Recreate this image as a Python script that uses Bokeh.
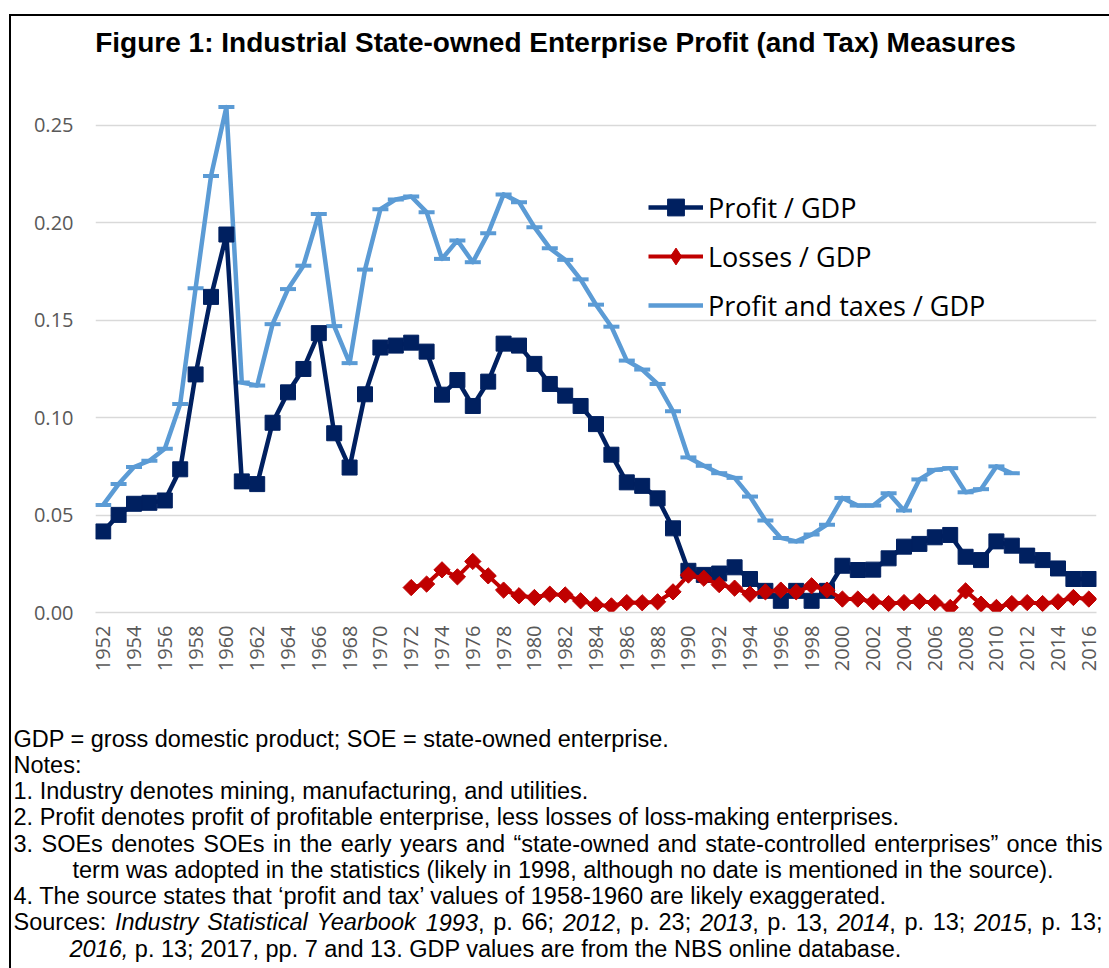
import math
from bokeh.plotting import figure
from bokeh.layouts import column
from bokeh.models import (Range1d, FixedTicker, NumeralTickFormatter, Legend, LegendItem)
from bokeh.core.properties import value
from bokeh.embed import file_html
from bokeh.resources import INLINE

# ---------------- data ----------------
years = list(range(1952, 2017))
profit_gdp = [0.0416, 0.0501, 0.0558, 0.0563, 0.0575, 0.0735, 0.1222, 0.1620, 0.1940, 0.0673,
              0.0659, 0.0974, 0.1130, 0.1250, 0.1434, 0.0920, 0.0744, 0.1120, 0.1360, 0.1370,
              0.1385, 0.1339, 0.1118, 0.1193, 0.1060, 0.1185, 0.1380, 0.1370, 0.1276, 0.1173,
              0.1113, 0.1060, 0.0967, 0.0810, 0.0668, 0.0650, 0.0586, 0.0432, 0.0214, 0.0193,
              0.0200, 0.0232, 0.0172, 0.0111, 0.0060, 0.0111, 0.0060, 0.0111, 0.0240, 0.0218,
              0.0220, 0.0278, 0.0338, 0.0352, 0.0386, 0.0398, 0.0286, 0.0269, 0.0365, 0.0343,
              0.0292, 0.0269, 0.0226, 0.0172, 0.0172]

pt_years = list(range(1952, 2012))
profit_tax_gdp = [0.0552, 0.0659, 0.0747, 0.0779, 0.0841, 0.1070, 0.1664, 0.2240, 0.2594, 0.1180,
                  0.1165, 0.1480, 0.1660, 0.1780, 0.2045, 0.1470, 0.1280, 0.1760, 0.2070, 0.2120,
                  0.2135, 0.2055, 0.1815, 0.1910, 0.1798, 0.1947, 0.2146, 0.2106, 0.1978, 0.1870,
                  0.1810, 0.1710, 0.1580, 0.1467, 0.1293, 0.1247, 0.1173, 0.1033, 0.0796, 0.0753,
                  0.0715, 0.0691, 0.0595, 0.0472, 0.0383, 0.0365, 0.0400, 0.0451, 0.0588, 0.0549,
                  0.0549, 0.0612, 0.0523, 0.0683, 0.0732, 0.0741, 0.0617, 0.0633, 0.0750, 0.0715]

loss_years = list(range(1972, 2017))
losses_gdp = [0.0128, 0.0146, 0.0219, 0.0183, 0.0262, 0.0188, 0.0115, 0.0086, 0.0077, 0.0094,
              0.0090, 0.0060, 0.0039, 0.0034, 0.0051, 0.0050, 0.0055, 0.0106, 0.0192, 0.0176,
              0.0143, 0.0125, 0.0094, 0.0106, 0.0115, 0.0106, 0.0137, 0.0115, 0.0069, 0.0069,
              0.0055, 0.0046, 0.0051, 0.0057, 0.0051, 0.0026, 0.0111, 0.0043, 0.0026, 0.0046,
              0.0051, 0.0046, 0.0055, 0.0077, 0.0069]

y_ticks = [0.0, 0.05, 0.10, 0.15, 0.20, 0.25]
x_ticks = list(range(1952, 2017, 2))

title_text = "Figure 1: Industrial State-owned Enterprise Profit (and Tax) Measures"
legend_labels = ["Profit / GDP", "Losses / GDP", "Profit and taxes / GDP"]

# (indent, segments [(text, italic)], justify-to x or None)
note_lines = [
    (13, [("GDP = gross domestic product; SOE = state-owned enterprise.", False)], None),
    (13, [("Notes:", False)], None),
    (13, [("1. Industry denotes mining, manufacturing, and utilities.", False)], None),
    (13, [("2. Profit denotes profit of profitable enterprise, less losses of loss-making enterprises.", False)], None),
    (13, [("3. SOEs denotes SOEs in the early years and \u201cstate-owned and state-controlled enterprises\u201d once this", False)], 1102),
    (72, [("term was adopted in the statistics (likely in 1998, although no date is mentioned in the source).", False)], None),
    (13, [("4. The source states that \u2018profit and tax\u2019 values of 1958-1960 are likely exaggerated.", False)], None),
    (13, [("Sources: ", False), ("Industry Statistical Yearbook 1993", True), (", p. 66; ", False),
          ("2012", True), (", p. 23; ", False), ("2013", True), (", p. 13, ", False),
          ("2014", True), (", p. 13; ", False), ("2015", True), (", p. 13;", False)], 1102),
    (69, [("2016,", True),
          (" p. 13; 2017, pp. 7 and 13. GDP values are from the NBS online database.", False)], None),
]

# ---------------- styling ----------------
NAVY = "#002060"
RED = "#C00000"
LIGHT = "#5B9BD5"
GRID = "#D9D9D9"
TICK_COL = "#595959"

OX, OY = 11, 16          # page offset of the content (inside the frame border)
W = 1109 - OX            # 1098
H_T = 92 - OY            # title strip: page 16..92
H_A = 690 - 92           # chart: page 92..690
H_B = 968 - 690          # notes: page 690..968


def blank_fig(h, y_top, y_bot):
    f = figure(width=W, height=h, output_backend="svg", toolbar_location=None,
               x_range=Range1d(OX, 1109), y_range=Range1d(y_bot, y_top),
               x_axis_location=None, y_axis_location=None, min_border=0,
               frame_align=False)
    f.min_border_left = f.min_border_right = f.min_border_top = f.min_border_bottom = 0
    f.xgrid.grid_line_color = None
    f.ygrid.grid_line_color = None
    f.outline_line_color = None
    f.background_fill_color = "white"
    f.border_fill_color = "white"
    return f


# ---------------- title strip ----------------
pt = blank_fig(H_T, OY, 92)
pt.text(x=[555], y=[42], text=[title_text], text_font=value("Liberation Sans"),
        text_font_size=value("28px"), text_font_style=value("bold"),
        text_align="center", text_baseline="middle", text_color="black")

# ---------------- chart ----------------
p = figure(width=W, height=H_A, output_backend="svg", toolbar_location=None,
           x_range=Range1d(1951.5, 2016.5), y_range=Range1d(0, 0.2669),
           min_border_left=95 - OX, min_border_right=1109 - 1096, min_border_top=0,
           min_border_bottom=690 - 612, frame_align=False)
p.background_fill_color = "white"
p.border_fill_color = "white"
p.outline_line_color = None

p.yaxis.ticker = FixedTicker(ticks=y_ticks)
p.yaxis.formatter = NumeralTickFormatter(format="0.00")
p.yaxis.axis_line_color = None
p.yaxis.major_tick_line_color = None
p.yaxis.minor_tick_line_color = None
p.yaxis.major_tick_out = 0
p.yaxis.major_tick_in = 0
p.yaxis.major_label_standoff = 22
p.yaxis.major_label_text_font = "Open Sans"
p.yaxis.major_label_text_font_size = "20px"
p.yaxis.major_label_text_color = TICK_COL

p.xaxis.ticker = FixedTicker(ticks=x_ticks)
p.xaxis.major_label_orientation = math.pi / 2
p.xaxis.axis_line_color = GRID
p.xaxis.axis_line_width = 1.5
p.xaxis.major_tick_line_color = None
p.xaxis.minor_tick_line_color = None
p.xaxis.major_tick_out = 0
p.xaxis.major_tick_in = 0
p.xaxis.major_label_standoff = 13
p.xaxis.major_label_text_font = "Open Sans"
p.xaxis.major_label_text_font_size = "20px"
p.xaxis.major_label_text_color = TICK_COL

p.xgrid.grid_line_color = None
p.ygrid.ticker = FixedTicker(ticks=y_ticks)
p.ygrid.grid_line_color = GRID
p.ygrid.grid_line_width = 1.5

pt_line = p.line(pt_years, profit_tax_gdp, line_color=LIGHT, line_width=4.5, line_join="round")
p.scatter(pt_years, profit_tax_gdp, marker="dash", size=16, line_color=LIGHT, line_width=4)

pr_line = p.line(years, profit_gdp, line_color=NAVY, line_width=4.5, line_join="round")
pr_mark = p.scatter(years, profit_gdp, marker="square", size=15, fill_color=NAVY, line_color=NAVY)

ls_line = p.line(loss_years, losses_gdp, line_color=RED, line_width=4, line_join="round")
# key glyph for the legend (hidden beneath the first rotated-square marker)
ls_key = p.scatter(loss_years[:1], losses_gdp[:1], marker="diamond", size=15,
                   fill_color=RED, line_color=RED)
p.scatter(loss_years, losses_gdp, marker="square", angle=math.pi / 4, size=11.5,
          fill_color=RED, line_color=RED)

legend = Legend(items=[LegendItem(label=legend_labels[0], renderers=[pr_line, pr_mark]),
                       LegendItem(label=legend_labels[1], renderers=[ls_line, ls_key]),
                       LegendItem(label=legend_labels[2], renderers=[pt_line])],
                location=(648 - 95, 612 - 326), orientation="vertical",
                padding=0, margin=0, spacing=7, glyph_width=55, glyph_height=42,
                label_height=42, label_standoff=5, border_line_color=None,
                background_fill_alpha=0, label_text_font="Open Sans",
                label_text_font_size="27px", label_text_color="black")
p.add_layout(legend)

# ---------------- notes ----------------
pn = blank_fig(H_B, 690, 968)

ARIAL = {' ': 278, '!': 278, '"': 355, '%': 889, '&': 667, "'": 191, '(': 333, ')': 333,
         ',': 278, '-': 333, '.': 278, '/': 278, ':': 278, ';': 278, '=': 584,
         '\u201c': 333, '\u201d': 333, '\u2018': 222, '\u2019': 222,
         'A': 667, 'B': 667, 'C': 722, 'D': 722, 'E': 667, 'F': 611, 'G': 778, 'H': 722,
         'I': 278, 'J': 500, 'K': 667, 'L': 556, 'M': 833, 'N': 722, 'O': 778, 'P': 667,
         'Q': 778, 'R': 722, 'S': 667, 'T': 611, 'U': 722, 'V': 667, 'W': 944, 'X': 667,
         'Y': 667, 'Z': 611,
         'a': 556, 'b': 556, 'c': 500, 'd': 556, 'e': 556, 'f': 278, 'g': 556, 'h': 556,
         'i': 222, 'j': 222, 'k': 500, 'l': 222, 'm': 833, 'n': 556, 'o': 556, 'p': 556,
         'q': 556, 'r': 333, 's': 500, 't': 278, 'u': 556, 'v': 500, 'w': 722, 'x': 500,
         'y': 500, 'z': 500}
NOTE_SIZE = 23.5


def text_w(s, size=NOTE_SIZE):
    return sum(ARIAL.get(c, 556) for c in s) * size / 1000.0


normal = {"x": [], "y": [], "t": []}
italic = {"x": [], "y": [], "t": []}


def emit(x, y, t, it):
    d = italic if it else normal
    d["x"].append(x); d["y"].append(y); d["t"].append(t)


def layout_line(x0, y, segs, justify_to):
    if justify_to is None:
        x = x0
        for s, it in segs:
            stripped = s.lstrip(" ")
            lead = text_w(s[:len(s) - len(stripped)])
            emit(x + lead, y, stripped.rstrip(" "), it)
            x += text_w(s)
        return
    # justified: split into words (each word may hold several style runs)
    chars = [(c, it) for s, it in segs for c in s]
    words, cur = [], []
    for c, it in chars:
        if c == " ":
            if cur:
                words.append(cur); cur = []
        else:
            cur.append((c, it))
    if cur:
        words.append(cur)
    natural = sum(text_w("".join(c for c, _ in w)) for w in words) + text_w(" ") * (len(words) - 1)
    gap = text_w(" ") + (justify_to - x0 - natural) / max(1, len(words) - 1)
    x = x0
    for w in words:
        runs = []
        for c, it in w:
            if runs and runs[-1][1] == it:
                runs[-1][0] += c
            else:
                runs.append([c, it])
        for t, it in runs:
            emit(x, y, t, it)
            x += text_w(t)
        x += gap


y0, pitch = 738, 26.25
for i, (x, segs, just) in enumerate(note_lines):
    layout_line(x, y0 + i * pitch, segs, just)

pn.text(x=normal["x"], y=normal["y"], text=normal["t"], text_font=value("Liberation Sans"),
        text_font_size=value(f"{NOTE_SIZE}px"), text_font_style=value("normal"),
        text_align="left", text_baseline="middle", text_color="black")
pn.text(x=italic["x"], y=italic["y"], text=italic["t"], text_font=value("Liberation Sans"),
        text_font_size=value(f"{NOTE_SIZE}px"), text_font_style=value("italic"),
        text_align="left", text_baseline="middle", text_color="black")

root = column(pt, p, pn, spacing=0,
              styles={"margin-left": "9px", "margin-top": "14px",
                      "border-left": "2px solid black", "border-top": "2px solid black"})

open("out.html", "w").write(file_html(root, INLINE))
